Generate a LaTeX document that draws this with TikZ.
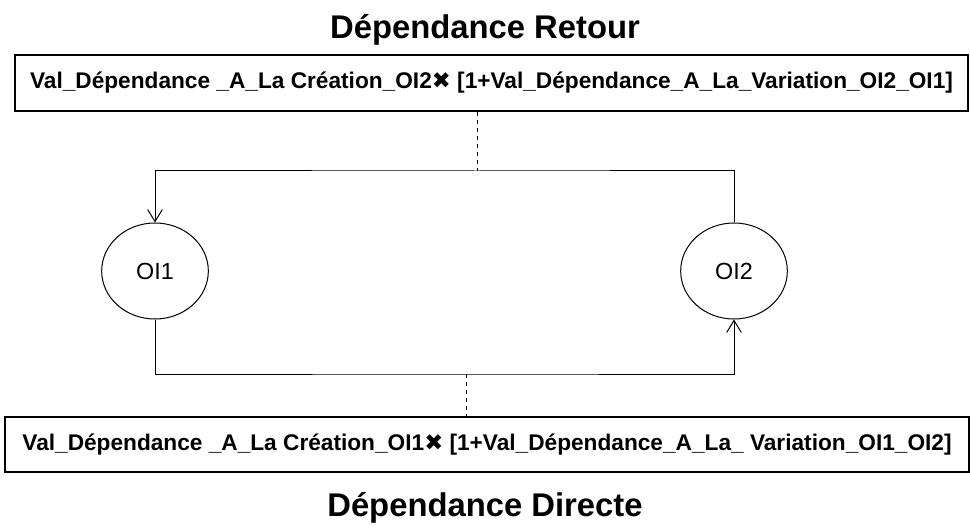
\documentclass[tikz,border=0pt]{standalone}
\usepackage{fontspec}
\setmainfont{Liberation Sans}
\newfontfamily\symfont{DejaVu Sans}
\usetikzlibrary{arrows.meta, shapes.geometric}
\begin{document}
\begin{tikzpicture}[x=0.75pt, y=-0.75pt,
        formbox/.style={draw=black, line width=1pt, inner sep=0pt,
            font=\fontsize{17}{20}\selectfont\bfseries},
        oval/.style={draw=black, ellipse, line width=0.75pt,
            minimum width=80pt, minimum height=72pt, inner sep=0pt,
            font=\fontsize{17.5}{20}\selectfont},
        titre/.style={font=\fontsize{24.6}{29}\selectfont\bfseries},
        link/.style={line width=0.75pt, -{Straight Barb[length=9pt,width=11pt]}}]
    \useasboundingbox (0,0) rectangle (970,527);

    % Titles
    \node[titre] (tretour) at (485,30) {Dépendance Retour};
    \node[titre] (tdirecte) at (485,508) {Dépendance Directe};

    % Formula boxes
    \node[formbox, minimum width=714.75pt, minimum height=42pt] (boxretour) at (491.5,83)
        {Val\_Dépendance \_A\_La Création\_OI2{\symfont ✖} [1+Val\_Dépendance\_A\_La\_Variation\_OI2\_OI1]};
    \node[formbox, minimum width=723pt, minimum height=41.25pt] (boxdirecte) at (487,444.5)
        {Val\_Dépendance \_A\_La Création\_OI1{\symfont ✖} [1+Val\_Dépendance\_A\_La\_ Variation\_OI1\_OI2]};

    % Objects
    \node[oval] (oi1) at (155,271) {OI1};
    \node[oval] (oi2) at (734,271) {OI2};

    \coordinate (hretour) at (477,171);
    \coordinate (hdirecte) at (466,374);

    % Dependencies
    \draw[link] (oi2.north) |- (hretour) -| (oi1.north);
    \draw[link] (oi1.south) |- (hdirecte) -| (oi2.south);
    \draw[line width=0.75pt, dash pattern=on 3pt off 3pt] (boxretour.south -| hretour) -- (hretour);
    \draw[line width=0.75pt, dash pattern=on 3pt off 3pt] (hdirecte) -- (boxdirecte.north -| hdirecte);
\end{tikzpicture}
\end{document}
